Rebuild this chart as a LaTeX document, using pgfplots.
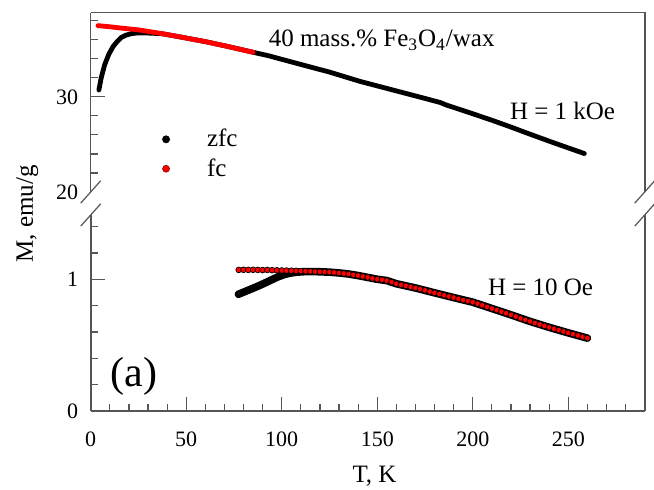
\documentclass[border=0pt]{standalone}
\usepackage{fontspec}
\setmainfont{Liberation Serif}
\usepackage{pgfplots}
\pgfplotsset{compat=1.18}
\definecolor{axgray}{HTML}{555555}
\definecolor{fcred}{HTML}{FF0000}
\newcommand{\lbl}{\fontsize{12.5}{15}\selectfont}
\begin{document}
\begin{tikzpicture}[x=1pt,y=1pt]
\useasboundingbox (-45.35pt,-39.5pt) rectangle (281.65pt,205.5pt);
\pgfplotsset{
 brk/.style={
  scale only axis, width=277pt, xmin=0, xmax=290,
  axis line style={axgray, line width=0.8pt, -},
  tick style={axgray, line width=0.6pt},
  tick align=inside,
  major tick length=7pt, minor tick length=3.5pt,
  ticklabel style={font=\fontsize{11}{13}\selectfont},
  /pgf/number format/assume math mode=true,
  clip=false,
 }
}
% ---------------- lower axis: H = 10 Oe ----------------
\begin{axis}[brk, at={(0pt,0pt)}, anchor=south west,
  height=98pt, ymin=0, ymax=1.488,
  axis x line=bottom, axis y line=left, axis line style={-},
  tick align=inside,
  xtick={0,50,100,150,200,250}, minor xtick={10,20,30,40,60,70,80,90,110,120,130,140,160,170,180,190,210,220,230,240,260,270,280},
  ytick={0,1}, minor ytick={0.2,0.4,0.6,0.8,1.2,1.4},
  xticklabel style={yshift=-6.7pt},
  yticklabel style={xshift=-2.8pt},
]
% fc, parts hidden under zfc
\addplot[only marks, mark=*, mark size=1.45pt, mark options={fill=fcred, draw=black, line width=0.35pt}] coordinates {
(107.5,1.064) (110,1.062) (112.5,1.061) (115,1.060) (117.5,1.058) (120,1.057) (122.5,1.056) (125,1.054) (127.5,1.051)
(212.5,0.766) (215,0.754) (217.5,0.742) (220,0.730) (222.5,0.717) (225,0.703) (227.5,0.692) (230,0.680) (232.5,0.668) (235,0.657) (237.5,0.646) (240,0.635) (242.5,0.624) (245,0.614) (247.5,0.603) (250,0.593) (252.5,0.583) (255,0.573) (257.5,0.563)
};
% zfc
\addplot[black, line width=3.8pt, line cap=round, line join=round] coordinates {
(77.3,0.886) (80,0.902) (83,0.920) (86,0.938) (89,0.957) (92,0.977) (95,0.998) (98,1.018) (101,1.034) (104,1.046) (108,1.054) (112,1.058) (118,1.058) (125,1.054) (130,1.048) (135,1.040) (140,1.028) (145,1.014) (150,1.000) (155,0.990) (160,0.966) (170,0.934) (180,0.897) (190,0.861) (200,0.826) (210,0.778) (220,0.730) (230,0.680) (240,0.635) (250,0.593) (260,0.553)
};
% fc, visible parts
\addplot[only marks, mark=*, mark size=1.45pt, mark options={fill=fcred, draw=black, line width=0.35pt}] coordinates {
(77.5,1.071) (80,1.072) (82.5,1.071) (85,1.072) (87.5,1.071) (90,1.070) (92.5,1.071) (95,1.069) (97.5,1.068) (100,1.067) (102.5,1.066) (105,1.065)
(130,1.048) (132.5,1.044) (135,1.040) (137.5,1.034) (140,1.028) (142.5,1.021) (145,1.014) (147.5,1.006) (150,1.000) (152.5,0.996) (155,0.990) (157.5,0.979) (160,0.966) (162.5,0.958) (165,0.950) (167.5,0.942) (170,0.934) (172.5,0.925) (175,0.916) (177.5,0.906) (180,0.897) (182.5,0.888) (185,0.878) (187.5,0.869) (190,0.861) (192.5,0.852) (195,0.842) (197.5,0.834) (200,0.826) (202.5,0.815) (205,0.803) (207.5,0.790) (210,0.778)
(260,0.553)
};
\node[anchor=base, font=\lbl] at (axis cs:235.5,0.873) {H = 10 Oe};
\node[anchor=base, font=\fontsize{21}{24}\selectfont] at (axis cs:22.7,0.185) {(a)};
\draw[axgray, line width=0.8pt] (rel axis cs:1,0) -- (rel axis cs:1,1);
\draw[axgray, line width=0.6pt] ([shift={(-5pt,-5.6pt)}]rel axis cs:0,1) -- ++(10pt,11.2pt);
\draw[axgray, line width=0.6pt] ([shift={(-5pt,-5.6pt)}]rel axis cs:1,1) -- ++(10pt,11.2pt);
\end{axis}
% ---------------- upper axis: H = 1 kOe ----------------
\begin{axis}[brk, at={(0pt,109.5pt)}, anchor=south west,
  height=89.65pt, ymin=20, ymax=38.84,
  axis y line=left, axis x line=none, axis line style={-},
  tick align=inside,
  ytick={30}, minor ytick={22,24,26,28,32,34,36,38},
  extra y ticks={20}, extra y tick style={major tick length=0pt},
  yticklabel style={xshift=-2.8pt},
  legend style={at={(axis description cs:0.129,0.3533)}, anchor=north west, draw=none, fill=none,
     font=\lbl, inner sep=0pt, row sep=4.4pt, column sep=0pt, nodes={inner sep=0pt}},
  legend cell align=left,
  legend image code/.code={\draw[#1] plot coordinates {(0pt,0pt)}; \path[draw=none,fill=none] (-1.75pt,-3.6pt) rectangle (20.5pt,2.4pt);},
]
\addplot[forget plot, black, line width=2.4pt, line cap=round, line join=round] coordinates {
(4.3,30.72) (5.5,32.0) (7.3,33.36) (9.5,34.48) (11.7,35.28) (14,35.84) (16,36.24) (18.5,36.48) (21.3,36.64) (25,36.72) (28.3,36.72) (32,36.68) (37,36.64) (45,36.36) (60,35.8) (72,35.28) (85,34.68) (93,34.32) (110,33.4) (125,32.6) (141,31.62) (160,30.62) (175,29.83) (183,29.4) (186,29.15) (200,28.22) (211,27.47) (220,26.82) (228,26.22) (240,25.34) (250,24.63) (258.4,24.04)
};
\addplot[forget plot, fcred, line width=2.4pt, line cap=round, line join=round] coordinates {
(3.8,37.48) (10,37.36) (17,37.2) (24.8,37.04) (35,36.72) (45,36.36) (60,35.8) (72,35.28) (85,34.68)
};
\addlegendimage{only marks, mark=*, mark size=1.75pt, black}
\addlegendentry{zfc}
\addlegendimage{only marks, mark=*, mark size=1.75pt, mark options={fill=fcred, draw=red!55!black, line width=0.3pt}}
\addlegendentry{fc}
\node[anchor=base, font=\lbl] at (axis cs:152.3,35.26) {40 mass.\% Fe\textsubscript{3}O\textsubscript{4}/wax};
\node[anchor=base, font=\lbl] at (axis cs:247,27.62) {H = 1 kOe};
\draw[axgray, line width=0.8pt] (rel axis cs:0,1) -- (rel axis cs:1,1) -- (rel axis cs:1,0);
\draw[axgray, line width=0.6pt] ([shift={(-5pt,-5.6pt)}]rel axis cs:0,0) -- ++(10pt,11.2pt);
\draw[axgray, line width=0.6pt] ([shift={(-5pt,-5.6pt)}]rel axis cs:1,0) -- ++(10pt,11.2pt);
\end{axis}
\node[anchor=base, rotate=90, font=\lbl] at (-28.85pt,98.5pt) {M, emu/g};
\node[anchor=base, font=\lbl] at (141.9pt,-36pt) {T, K};
\end{tikzpicture}
\end{document}
